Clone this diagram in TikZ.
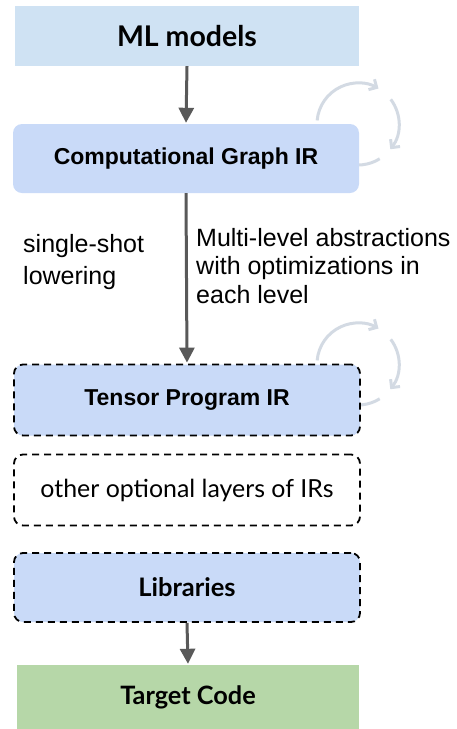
\documentclass[tikz,border=0pt]{standalone}
\usepackage{fontspec}
\setmainfont{Lato}
\newfontfamily\robo{Liberation Sans}
\usetikzlibrary{arrows.meta,calc}
\definecolor{mlblue}{HTML}{CFE2F3}
\definecolor{irblue}{HTML}{C9DAF8}
\definecolor{tgreen}{HTML}{B6D7A8}
\definecolor{arrgray}{HTML}{595959}
\definecolor{cyc}{HTML}{D3DAE3}
\tikzset{
  flatbox/.style={rectangle, inner sep=0pt, align=center},
  roundbox/.style={rectangle, rounded corners=9pt, inner sep=0pt, align=center},
  dashbox/.style={roundbox, draw=black, line width=1.8pt, dash pattern=on 7pt off 5pt},
  flow/.style={draw=arrgray, line width=3pt, -{Triangle[length=15pt,width=15pt]}, shorten >=1pt},
  cycarc/.style={draw=cyc, line width=3pt},
  cyctip/.style={cycarc, -{Straight Barb[length=6pt,width=12pt,line width=3pt]}},
  note/.style={font=\robo\fontsize{25}{28.5}\selectfont, align=left, inner sep=0pt, anchor=north west},
}
\begin{document}
\begin{tikzpicture}[x=1pt,y=-1pt]
\useasboundingbox (0,0) rectangle (456,729);
% cycle arrows (behind boxes)
\foreach \cy in {124,364}{
  \draw[cyctip] ($(358,\cy)+(185:41)$) arc[start angle=185,end angle=300,radius=41];
  \draw[cyctip] ($(358,\cy)+(323:41)$) arc[start angle=323,end angle=398,radius=41];
  \draw[cycarc] ($(358,\cy)+(58:41)$) arc[start angle=58,end angle=110,radius=41];
}
\node[flatbox, fill=mlblue, minimum width=344pt, minimum height=60pt, font=\bfseries\fontsize{28.5}{32}\selectfont] (ml) at (187,36) {ML models};
\node[roundbox, fill=irblue, minimum width=346pt, minimum height=69pt, font=\robo\bfseries\fontsize{23}{27}\selectfont] (cg) at (186,158.5) {Computational Graph IR};
\node[dashbox, fill=irblue, minimum width=346pt, minimum height=71pt, font=\robo\bfseries\fontsize{23}{27}\selectfont] (tp) at (187,400) {Tensor Program IR};
\node[dashbox, fill=white, minimum width=346pt, minimum height=71pt, font=\fontsize{24.9}{28}\selectfont] (ot) at (187,490) {other optional layers of IRs};
\node[dashbox, fill=irblue, minimum width=346pt, minimum height=69pt, font=\bfseries\fontsize{25.5}{29}\selectfont] (lib) at (187,587.5) {Libraries};
\node[flatbox, fill=tgreen, minimum width=342pt, minimum height=64pt, font=\bfseries\fontsize{25.3}{29}\selectfont] (tc) at (188,697) {Target Code};
\draw[flow] (ml.south) -- (cg.north);
\draw[flow] (cg.south) -- (tp.north);
\draw[flow] (lib.south) -- (tc.north);
\node[note, font=\robo\fontsize{25}{32}\selectfont] (ss) at (23,234) {single-shot\\lowering};
\node[note] (mla) at (196,228) {Multi-level abstractions\\with optimizations in\\each level};
\end{tikzpicture}
\end{document}
